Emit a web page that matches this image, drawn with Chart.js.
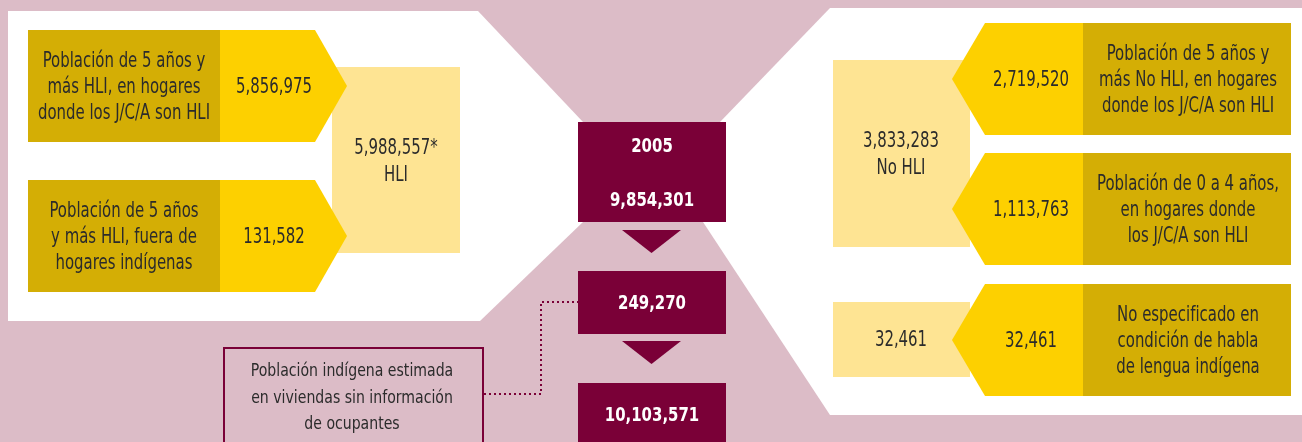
<!DOCTYPE html>
<html lang="es">
<head>
<meta charset="utf-8">
<title>Población indígena 2005</title>
<script src="https://cdn.jsdelivr.net/npm/chart.js@4.4.1/dist/chart.umd.min.js"></script>
<style>
  html, body { margin: 0; padding: 0; background: #dcbcc7; overflow: hidden; }
  #wrap { width: 1302px; height: 442px; }
</style>
</head>
<body>
<div id="wrap"><canvas id="diagram" width="1302" height="442"></canvas></div>
<script>
/* Data */
const year        = '2005';
const flowValues  = [9854301, 249270, 10103571];
const hliLabels   = [
  ['Población de 5 años y', 'más HLI, en hogares', 'donde los J/C/A son HLI'],
  ['Población de 5 años', 'y más HLI, fuera de', 'hogares indígenas']
];
const hliValues   = [5856975, 131582];
const hliTotal    = 5988557;
const noHliLabels = [
  ['Población de 5 años y', 'más No HLI, en hogares', 'donde los J/C/A son HLI'],
  ['Población de 0 a 4 años,', 'en hogares donde', 'los J/C/A son HLI'],
  ['No especificado en', 'condición de habla', 'de lengua indígena']
];
const noHliValues = [2719520, 1113763, 32461];
const noHliTotal  = 3833283;
const noEspTotal  = 32461;
const noteLines   = ['Población indígena estimada', 'en viviendas sin información', 'de ocupantes'];

/* Colours */
const PINK = '#dcbcc7', WINE = '#7a0037', GOLD = '#d4ae05',
      YELLOW = '#fdd000', PALE = '#fee493', INK = '#2b2b2b';
const FONT = '"DejaVu Sans Condensed", "Liberation Sans", sans-serif';

/* Layout in page units (x 0..1302, y 0..442 from the top) */
const leftRows  = [30, 180], rightRows = [23, 153, 284], ROW_H = 112;
const wineBoxes = [[122, 222], [271, 334], [383, 470]];
const wineArrows = [[230, 253], [341, 364]];

const fmt = n => n.toLocaleString('en-US');

/* text styles: size, horizontal squeeze (original face is narrower), weight, colour */
const BODY = { size: 21, sq: 0.79, bold: false, color: INK };
const HEAD = { size: 20, sq: 0.83, bold: true,  color: '#ffffff' };
const NOTE = { size: 18, sq: 0.87, bold: false, color: INK };

const diagramPlugin = {
  id: 'diagram',
  beforeDatasetsDraw(chart) {
    const c = chart.ctx;
    const sx = chart.scales.x, sy = chart.scales.y;
    const X = v => sx.getPixelForValue(v), Y = v => sy.getPixelForValue(v);

    const poly = (pts, fill) => {
      c.beginPath();
      pts.forEach(([x, y], i) => i ? c.lineTo(X(x), Y(y)) : c.moveTo(X(x), Y(y)));
      c.closePath();
      c.fillStyle = fill;
      c.fill();
    };
    const rect = (x0, y0, x1, y1, fill) => poly([[x0, y0], [x1, y0], [x1, y1], [x0, y1]], fill);
    const text = (lines, x, yc, st, lh) => {
      const h = lh || 26;
      lines.forEach((t, i) => {
        c.save();
        c.font = `${st.bold ? 'bold ' : ''}${st.size}px ${FONT}`;
        c.fillStyle = st.color;
        c.textAlign = 'center';
        c.textBaseline = 'middle';
        c.translate(X(x), Y(yc + (i - (lines.length - 1) / 2) * h));
        c.scale(st.sq, 1);
        c.fillText(t, 0, 0);
        c.restore();
      });
    };

    c.save();
    /* background */
    rect(0, 0, 1302, 442, PINK);
    poly([[8, 11], [478, 11], [583, 122], [583, 222], [480, 321], [8, 321]], '#ffffff');
    poly([[830, 8], [1302, 8], [1302, 415], [830, 415], [703, 222], [720, 122]], '#ffffff');

    /* left side: HLI */
    rect(332, 67, 460, 253, PALE);
    text([fmt(hliTotal) + '*', 'HLI'], 396, 162, BODY, 27);
    leftRows.forEach((top, i) => {
      const bot = top + ROW_H, mid = top + ROW_H / 2;
      poly([[220, top], [315, top], [347, mid], [315, bot], [220, bot]], YELLOW);
      rect(28, top, 220, bot, GOLD);
      text(hliLabels[i], 124, mid + 2, BODY);
      text([fmt(hliValues[i])], 274, mid + 2, BODY);
    });

    /* right side: No HLI */
    rect(833, 60, 970, 247, PALE);
    text([fmt(noHliTotal), 'No HLI'], 901, 155, BODY, 27);
    rect(833, 302, 970, 377, PALE);
    text([fmt(noEspTotal)], 901, 341, BODY);
    rightRows.forEach((top, i) => {
      const bot = top + ROW_H, mid = top + ROW_H / 2;
      poly([[985, top], [1083, top], [1083, bot], [985, bot], [952, mid]], YELLOW);
      rect(1083, top, 1291, bot, GOLD);
      text(noHliLabels[i], 1188, mid + 2, BODY);
      text([fmt(noHliValues[i])], 1031, mid + 2, BODY);
    });

    /* centre flow */
    wineBoxes.forEach(([t, b]) => rect(578, t, 726, b, WINE));
    wineArrows.forEach(([t, b]) => poly([[622, t], [681, t], [651.5, b]], WINE));
    text([year], 652, 147, HEAD);
    text([fmt(flowValues[0])], 652, 201, HEAD);
    text([fmt(flowValues[1])], 652, 304, HEAD);
    text([fmt(flowValues[2])], 652, 416, HEAD);

    /* note box + dotted connector */
    c.strokeStyle = WINE;
    c.lineWidth = 2;
    c.strokeRect(X(224), Y(348), X(483) - X(224), Y(470) - Y(348));
    text(noteLines, 352, 398, NOTE, 26.5);
    c.setLineDash([2, 3]);
    c.lineWidth = 2;
    c.beginPath();
    c.moveTo(X(484), Y(394));
    c.lineTo(X(541), Y(394));
    c.lineTo(X(541), Y(302));
    c.lineTo(X(578), Y(302));
    c.stroke();
    c.restore();
  }
};

new Chart(document.getElementById('diagram'), {
  type: 'scatter',
  data: { datasets: [{ data: [], pointRadius: 0 }] },
  options: {
    responsive: false,
    animation: false,
    devicePixelRatio: 1,
    layout: { padding: 0 },
    plugins: { legend: { display: false }, tooltip: { enabled: false } },
    scales: {
      x: { display: false, min: 0, max: 1302 },
      y: { display: false, min: 0, max: 442, reverse: true }
    }
  },
  plugins: [diagramPlugin]
});
</script>
</body>
</html>
